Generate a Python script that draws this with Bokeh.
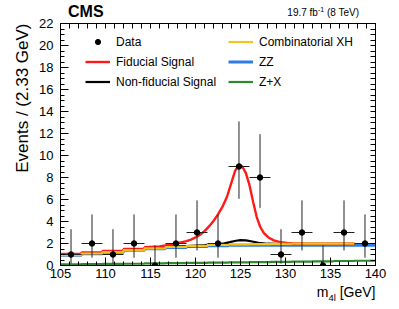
from bokeh.plotting import figure
from bokeh.models import (LinearAxis, Range1d, Legend, LegendItem, Title, Div,
                          FixedTicker, ColumnDataSource)
from bokeh.layouts import column
from bokeh.embed import file_html
from bokeh.resources import INLINE

# ---------------- data ----------------
bin_centers = [106.17, 108.5, 110.83, 113.17, 115.5, 117.83, 120.17, 122.5,
               124.83, 127.17, 129.5, 131.83, 134.17, 136.5, 138.83]
data_counts = [1, 2, 1, 2, 0, 2, 3, 2, 9, 8, 1, 3, 0, 3, 2]
err_low = [0.83, 1.29, 0.83, 1.29, 0.0, 1.29, 1.63, 1.29, 2.94, 2.76, 0.83, 1.63, 0.0, 1.63, 1.29]
err_high = [2.30, 2.64, 2.30, 2.64, 1.84, 2.64, 2.92, 2.64, 4.10, 3.94, 2.30, 2.92, 1.84, 2.92, 2.64]
bin_half_width = 1.165

# template bins for the background-type curves
tmpl_edges = [105.0, 107.33, 109.67, 112.0, 114.33, 116.67, 119.0, 121.33,
              123.67, 126.0, 128.33, 130.67, 133.0, 135.33, 137.67, 140.0]
zx_vals = [0.10, 0.12, 0.14, 0.16, 0.19, 0.21, 0.23, 0.26, 0.28, 0.31, 0.33, 0.36, 0.38, 0.41, 0.43]
zz_vals = [0.93, 1.07, 1.20, 1.38, 1.53, 1.64, 1.73, 1.80, 1.83, 1.84, 1.84, 1.84, 1.84, 1.84, 1.84]
comb_vals = [0.95, 1.09, 1.22, 1.40, 1.56, 1.68, 1.78, 1.87, 1.92, 1.95, 1.97, 1.98, 1.98, 1.98]

nonfid_m = [105.0, 107.33, 107.34, 109.67, 109.68, 112.0, 112.01, 114.33, 114.34, 116.67,
            116.68, 119.0, 121.0, 122.0, 123.0, 123.8, 124.5, 125.0, 125.6, 126.3,
            127.0, 128.0, 129.0, 131.0, 137.67]
nonfid_v = [0.98, 0.98, 1.12, 1.12, 1.26, 1.26, 1.43, 1.43, 1.59, 1.59,
            1.72, 1.76, 1.86, 1.92, 1.98, 2.12, 2.25, 2.30, 2.28, 2.18,
            2.06, 1.98, 1.96, 1.96, 1.96]

fid_m = [105.0, 107.33, 107.34, 109.67, 109.68, 112.0, 112.01, 114.33, 114.34, 116.0,
         117.0, 118.0, 119.0, 119.5, 120.0, 120.5, 121.0, 121.5, 122.0, 122.5,
         123.0, 123.5, 124.0, 124.4, 124.86, 125.2, 125.6, 126.0, 126.4, 126.8,
         127.2, 127.6, 128.1, 128.7, 129.4, 130.2, 131.0, 132.0, 134.0, 137.67]
fid_v = [1.05, 1.05, 1.19, 1.19, 1.33, 1.33, 1.50, 1.50, 1.66, 1.74,
         1.86, 2.02, 2.22, 2.36, 2.55, 2.80, 3.12, 3.55, 4.05, 4.65,
         5.35, 6.25, 7.55, 8.60, 9.20, 9.00, 8.40, 7.30, 5.80, 4.40,
         3.50, 2.95, 2.55, 2.28, 2.12, 2.04, 2.01, 2.00, 1.99, 1.99]

x_major = [105, 110, 115, 120, 125, 130, 135, 140]
y_major = [0, 2, 4, 6, 8, 10, 12, 14, 16, 18, 20, 22]

FONT = "Liberation Sans"

# ---------------- figure ----------------
p = figure(frame_width=315, frame_height=242, x_range=Range1d(105, 140), y_range=Range1d(0, 22),
           output_backend="svg", toolbar_location=None)
p.min_border_left = 60
p.min_border_right = 20
p.min_border_top = 6
p.min_border_bottom = 20
p.xgrid.visible = False
p.ygrid.visible = False
p.outline_line_color = "black"
p.background_fill_color = "white"
p.border_fill_alpha = 0

bottom_ax = p.below[0]
left_ax = p.left[0]
top_ax = LinearAxis()
right_ax = LinearAxis()
p.add_layout(top_ax, "above")
p.add_layout(right_ax, "right")

x_minor = [x_major[0] + i for i in range(int(x_major[-1] - x_major[0]) + 1)]
y_minor = [i * 0.5 for i in range(int(y_major[-1] * 2) + 1)]

bottom_ax.ticker = FixedTicker(ticks=x_major, minor_ticks=x_minor)
left_ax.ticker = FixedTicker(ticks=y_major, minor_ticks=y_minor)
top_ax.ticker = FixedTicker(ticks=[], minor_ticks=x_minor)
right_ax.ticker = FixedTicker(ticks=[], minor_ticks=y_minor)

for ax in [bottom_ax, left_ax, top_ax, right_ax]:
    ax.major_tick_in = 8
    ax.major_tick_out = 0
    ax.minor_tick_in = 4
    ax.minor_tick_out = 0
    ax.axis_line_color = "black"
    ax.major_tick_line_color = "black"
    ax.minor_tick_line_color = "black"
    ax.major_label_text_font = FONT
    ax.major_label_text_font_size = "13px"
    ax.major_label_text_font_style = "normal"
    ax.major_label_text_color = "black"

for ax in [top_ax, right_ax]:
    ax.major_label_standoff = 0
    ax.minor_tick_in = 5

left_ax.major_label_standoff = 7
bottom_ax.major_label_standoff = 3

ytitle = Title(text="Events / (2.33 GeV)", align="right", text_font=FONT,
               text_font_size="17px", text_font_style="normal", text_color="black")
p.add_layout(ytitle, "left")

# ---------------- curves ----------------
def step_xy(edges, vals):
    return edges[:len(vals) + 1], list(vals) + [vals[-1]]

zx_x, zx_y = step_xy(tmpl_edges, zx_vals)
zz_x, zz_y = step_xy(tmpl_edges, zz_vals)
cb_x, cb_y = step_xy(tmpl_edges, comb_vals)

r_zx = p.step(zx_x, zx_y, mode="after", line_color="#2b8a2b", line_width=2.2)
r_zz = p.step(zz_x, zz_y, mode="after", line_color="#2f7ce8", line_width=3)
r_nf = p.line(nonfid_m, nonfid_v, line_color="black", line_width=2.2)
r_fid = p.line(fid_m, fid_v, line_color="#ff1a1a", line_width=2.4)
r_cb = p.step(cb_x, cb_y, mode="after", line_color="#f7c21b", line_width=2.2)

# ---------------- data ----------------
src = ColumnDataSource(dict(
    x=bin_centers, y=data_counts,
    x0=[c - bin_half_width for c in bin_centers],
    x1=[c + bin_half_width for c in bin_centers],
    ylo=[v - e for v, e in zip(data_counts, err_low)],
    yhi=[v + e for v, e in zip(data_counts, err_high)],
))
p.segment(x0="x", y0="ylo", x1="x", y1="yhi", source=src, line_color="#222222", line_width=1)
p.segment(x0="x0", y0="y", x1="x1", y1="y", source=src, line_color="#222222", line_width=1)
r_data = p.scatter("x", "y", source=src, marker="circle", size=5.5,
                   fill_color="black", line_color="black")

# ---------------- legends ----------------
def make_legend(items, loc):
    lg = Legend(items=items, location=loc, orientation="vertical")
    lg.padding = 0
    lg.margin = 0
    lg.spacing = 3
    lg.glyph_width = 25
    lg.glyph_height = 13
    lg.label_height = 17
    lg.label_standoff = 6
    lg.label_text_font = FONT
    lg.label_text_font_size = "12px"
    lg.label_text_color = "black"
    lg.background_fill_alpha = 0
    lg.border_line_alpha = 0
    return lg

leg1 = make_legend([LegendItem(label="Data", renderers=[r_data]),
                    LegendItem(label="Fiducial Signal", renderers=[r_fid]),
                    LegendItem(label="Non-fiducial Signal", renderers=[r_nf])], (25, 175))
leg2 = make_legend([LegendItem(label="Combinatorial XH", renderers=[r_cb]),
                    LegendItem(label="ZZ", renderers=[r_zz]),
                    LegendItem(label="Z+X", renderers=[r_zx])], (168, 175))
p.add_layout(leg1)
p.add_layout(leg2)

# ---------------- texts outside the frame ----------------
top_html = (
    '<div style="position:relative;width:399px;height:17px;font-family:\'Liberation Sans\';color:black;">'
    '<span style="position:absolute;left:68px;top:3.5px;font-size:16px;font-weight:bold;line-height:1;">CMS</span>'
    '<span style="position:absolute;right:40px;top:8px;font-size:10px;line-height:1;white-space:nowrap;">'
    '19.7 fb<sup style="font-size:7px;line-height:0;">-1</sup> (8 TeV)</span></div>'
)
bottom_html = (
    '<div style="position:relative;width:399px;height:22px;font-family:\'Liberation Sans\';color:black;">'
    '<span style="position:absolute;right:23.5px;top:0px;font-size:14px;line-height:1;white-space:nowrap;">'
    'm<sub style="font-size:9.5px;line-height:0;">4l</sub> [GeV]</span></div>'
)
top_div = Div(text=top_html, width=399, height=17, margin=0)
bottom_div = Div(text=bottom_html, width=399, height=22, margin=0)

layout = column(top_div, p, bottom_div, spacing=0)

open("out.html", "w").write(file_html(layout, INLINE))
